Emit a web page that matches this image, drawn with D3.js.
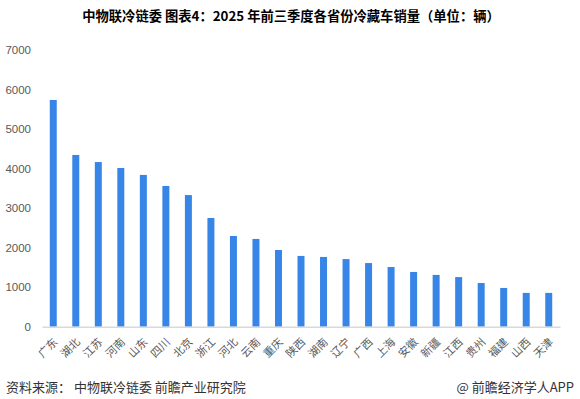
<!DOCTYPE html>
<html>
<head>
<meta charset="utf-8">
<script src="https://cdn.jsdelivr.net/npm/d3@7"></script>
<style>
  html, body { margin: 0; padding: 0; background: #fff; }
  svg { display: block; }
</style>
</head>
<body>
<svg id="chart" width="580" height="399"></svg>
<script>
const provinces = ["广东","湖北","江苏","河南","山东","四川","北京","浙江","河北","云南","重庆","陕西","湖南","辽宁","广西","上海","安徽","新疆","江西","贵州","福建","山西","天津"];
const sales = [5735, 4345, 4165, 4015, 3840, 3560, 3330, 2750, 2295, 2220, 1940, 1790, 1765, 1710, 1610, 1510, 1385, 1310, 1255, 1105, 980, 855, 855];
const yTicks = [0, 1000, 2000, 3000, 4000, 5000, 6000, 7000];
const titleText = "中物联冷链委  图表4：2025 年前三季度各省份冷藏车销量（单位：辆）";
const sourceText = "资料来源： 中物联冷链委 前瞻产业研究院";
const brandText = "@ 前瞻经济学人APP";

const svg = d3.select("#chart");
const cjk = "'Noto Sans CJK SC', 'Noto Sans', sans-serif";

const x = d3.scaleBand().domain(provinces).range([42, 560]).paddingInner(0.69).paddingOuter(0.345);
const y = d3.scaleLinear().domain([0, 7000]).range([326.7, 50]);

// title
svg.append("text")
  .attr("x", 291).attr("y", 21)
  .attr("text-anchor", "middle")
  .attr("font-family", cjk)
  .attr("font-weight", "bold")
  .attr("font-size", 13.3)
  .attr("fill", "#000")
  .text(titleText);

// y axis
const yAxis = d3.axisLeft(y).tickValues(yTicks).tickFormat(d3.format("d")).tickSize(0).tickPadding(0);
const gy = svg.append("g").attr("transform", "translate(31,0)").call(yAxis);
gy.select(".domain").remove();
gy.selectAll("text")
  .attr("font-family", "'Liberation Sans', Arial, sans-serif")
  .attr("font-size", 11.5)
  .attr("fill", "#595959");

// bars
svg.append("g").selectAll("rect")
  .data(provinces)
  .join("rect")
  .attr("x", d => x(d))
  .attr("width", x.bandwidth())
  .attr("y", (d, i) => y(sales[i]))
  .attr("height", (d, i) => y(0) - y(sales[i]))
  .attr("fill", "#3785e6");

// x axis
const xAxis = d3.axisBottom(x).tickSize(0).tickPadding(0);
const gx = svg.append("g").attr("transform", `translate(0,${y(0)})`).call(xAxis);
gx.select(".domain").attr("stroke", "#d9d9d9").attr("stroke-width", 1.5);
gx.selectAll(".tick text")
  .attr("font-family", cjk)
  .attr("font-size", 11)
  .attr("fill", "#595959")
  .attr("text-anchor", "end")
  .attr("dy", null)
  .attr("y", 0)
  .attr("transform", "translate(5,16) rotate(-45)");

// footer
svg.append("text")
  .attr("x", 6).attr("y", 392)
  .attr("font-family", cjk)
  .attr("font-size", 13)
  .attr("fill", "#333")
  .text(sourceText);

svg.append("text")
  .attr("x", 574).attr("y", 392)
  .attr("text-anchor", "end")
  .attr("font-family", cjk)
  .attr("font-size", 13)
  .attr("fill", "#333")
  .text(brandText);
</script>
</body>
</html>
